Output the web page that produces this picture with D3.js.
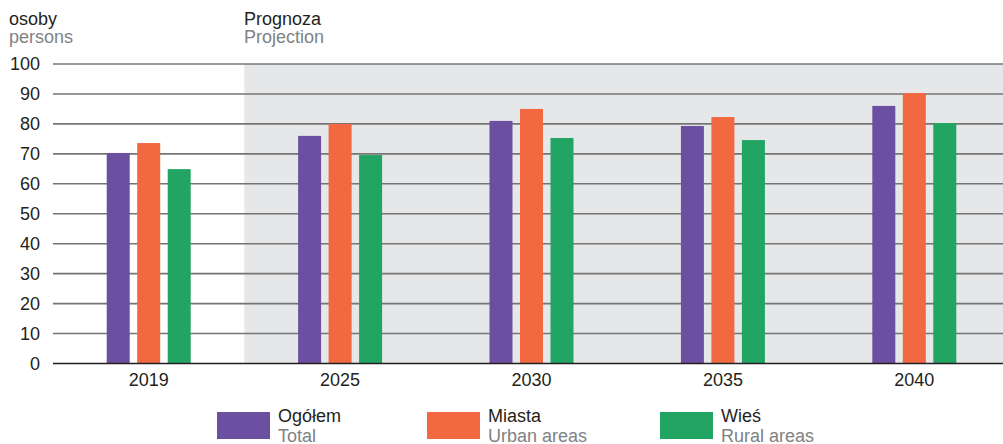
<!DOCTYPE html>
<html>
<head>
<meta charset="utf-8">
<script src="https://cdn.jsdelivr.net/npm/d3@7"></script>
<style>
    body { margin: 0; background: #fff; }
    text { font-family: "Liberation Sans", Arial, sans-serif; }
</style>
</head>
<body>
<div id="wrapper"></div>
<script>
const years = ["2019", "2025", "2030", "2035", "2040"]
const series = ["ogolem", "miasta", "wies"]
const ogolem = [70.3, 76.0, 81.0, 79.3, 86.0]
const miasta = [73.6, 80.0, 85.0, 82.3, 90.3]
const wies = [64.9, 69.6, 75.3, 74.6, 80.3]
const yTicks = [0, 10, 20, 30, 40, 50, 60, 70, 80, 90, 100]
const legendLabels = [["Ogółem", "Total"], ["Miasta", "Urban areas"], ["Wieś", "Rural areas"]]

const colors = {
    ogolem: "#6b4fa0",
    miasta: "#f26841",
    wies: "#22a463",
}

function drawChart() {
    const values = { ogolem, miasta, wies }
    const dataset = years.map((year, i) => ({
        year,
        items: series.map(key => ({ key, value: values[key][i] })),
    }))

    let dimensions = {
        width: 1003,
        height: 444,
        margin: { top: 64, right: -7, bottom: 80.5, left: 53 },
    }
    dimensions.boundedWidth = dimensions.width
        - dimensions.margin.left
        - dimensions.margin.right
    dimensions.boundedHeight = dimensions.height
        - dimensions.margin.top
        - dimensions.margin.bottom

    const wrapper = d3.select("#wrapper")
        .append("svg")
        .attr("width", dimensions.width)
        .attr("height", dimensions.height)
        .style("display", "block")

    const bounds = wrapper.append("g")
        .attr("transform", `translate(${dimensions.margin.left},${dimensions.margin.top})`)

    // scales
    const xScaler = d3.scaleBand()
        .domain(years)
        .range([0, dimensions.boundedWidth])

    const half = xScaler.bandwidth() / 2
    const innerScaler = d3.scaleBand()
        .domain(series)
        .range([half - 42, half + 42])
        .paddingInner(0.246)

    const yScaler = d3.scaleLinear()
        .domain([0, 100])
        .range([dimensions.boundedHeight, 0])

    // projection background
    bounds.append("rect")
        .attr("x", xScaler("2025"))
        .attr("y", 0)
        .attr("width", dimensions.width - dimensions.margin.left - xScaler("2025"))
        .attr("height", dimensions.boundedHeight)
        .attr("fill", "#e6e7e9")

    // grid
    const yAxisGen = d3.axisLeft(yScaler)
        .tickValues(yTicks)
        .tickSize(0)
        .tickPadding(13)

    const yAxis = bounds.append("g")
        .call(yAxisGen)
    yAxis.select(".domain").remove()
    yAxis.selectAll("text")
        .attr("font-size", 18)
        .attr("fill", "#231f20")
        .attr("font-family", "Liberation Sans, Arial, sans-serif")

    bounds.append("g")
        .selectAll("line")
        .data(yTicks.filter(d => d > 0))
        .join("line")
        .attr("x1", 0)
        .attr("x2", dimensions.width - dimensions.margin.left)
        .attr("y1", d => yScaler(d))
        .attr("y2", d => yScaler(d))
        .attr("stroke", "#757575")
        .attr("stroke-width", 1.6)

    // bars
    const groups = bounds.append("g")
        .selectAll("g")
        .data(dataset)
        .join("g")
        .attr("transform", d => `translate(${xScaler(d.year)},0)`)

    groups.selectAll("rect")
        .data(d => d.items)
        .join("rect")
        .attr("x", d => innerScaler(d.key))
        .attr("width", innerScaler.bandwidth())
        .attr("y", d => yScaler(d.value))
        .attr("height", d => dimensions.boundedHeight - yScaler(d.value))
        .attr("fill", d => colors[d.key])

    // x axis
    const xAxisGen = d3.axisBottom(xScaler)
        .tickSize(0)
        .tickPadding(10)
    const xAxis = bounds.append("g")
        .attr("transform", `translate(0,${dimensions.boundedHeight})`)
        .call(xAxisGen)
    xAxis.select(".domain").remove()
    xAxis.selectAll("text")
        .attr("font-size", 18)
        .attr("fill", "#231f20")
        .attr("font-family", "Liberation Sans, Arial, sans-serif")

    bounds.append("line")
        .attr("x1", 0)
        .attr("x2", dimensions.width - dimensions.margin.left)
        .attr("y1", dimensions.boundedHeight)
        .attr("y2", dimensions.boundedHeight)
        .attr("stroke", "#231f20")
        .attr("stroke-width", 1.6)

    // headers
    const headers = [
        { x: 9, a: "osoby", b: "persons" },
        { x: 244, a: "Prognoza", b: "Projection" },
    ]
    headers.forEach(h => {
        wrapper.append("text")
            .attr("x", h.x).attr("y", 25)
            .attr("font-size", 18).attr("fill", "#231f20")
            .text(h.a)
        wrapper.append("text")
            .attr("x", h.x).attr("y", 43)
            .attr("font-size", 18).attr("fill", "#808285")
            .text(h.b)
    })

    // legend
    const legendX = [217, 427, 660]
    const legend = wrapper.append("g")
        .selectAll("g")
        .data(series)
        .join("g")
        .attr("transform", (d, i) => `translate(${legendX[i]},412)`)

    legend.append("rect")
        .attr("width", 53)
        .attr("height", 27)
        .attr("fill", d => colors[d])
    legend.append("text")
        .attr("x", 61).attr("y", 10)
        .attr("font-size", 18).attr("fill", "#231f20")
        .text((d, i) => legendLabels[i][0])
    legend.append("text")
        .attr("x", 61).attr("y", 30)
        .attr("font-size", 18).attr("fill", "#808285")
        .text((d, i) => legendLabels[i][1])
}

drawChart()
</script>
</body>
</html>
